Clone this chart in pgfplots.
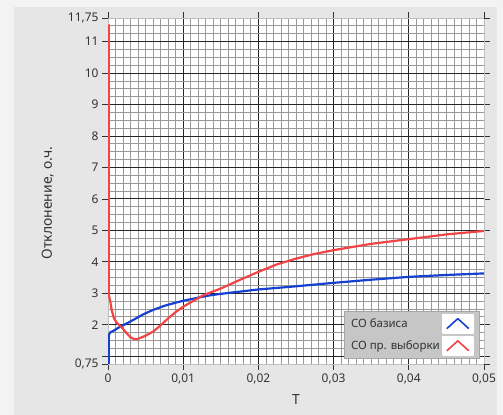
\documentclass[border=0pt]{standalone}
\usepackage{fontspec}
\setmainfont{Noto Sans}
\usepackage{pgfplots}
\pgfplotsset{compat=1.18}
\definecolor{bg}{HTML}{E6E6E6}
\definecolor{bglight}{HTML}{F3F3F3}
\definecolor{lgd}{HTML}{C6C6C6}
\definecolor{cblue}{HTML}{1540D0}
\definecolor{cred}{HTML}{F24444}
\definecolor{txt}{HTML}{333333}
\begin{document}
\begin{tikzpicture}
\fill[bg] (0,0) rectangle (503bp,415bp);
\fill[bglight] (0,0) rectangle (14bp,415bp);
\fill[bglight] (0,408bp) rectangle (503bp,415bp);
\fill[bglight] (497bp,0) rectangle (503bp,415bp);
\begin{axis}[
  scale only axis, width=376bp, height=346bp,
  at={(108bp,51bp)}, anchor=south west,
  xmin=0, xmax=0.05, ymin=0.75, ymax=11.75,
  axis background/.style={fill=white},
  scaled x ticks=false,
  xtick={0,0.01,0.02,0.03,0.04,0.05},
  xticklabels={0,{0,01},{0,02},{0,03},{0,04},{0,05}},
  ytick={1,2,3,4,5,6,7,8,9,10,11},
  yticklabels={{},2,3,4,5,6,7,8,9,10,11},
  extra y ticks={0.75,11.75},
  extra y tick labels={{0,75},{11,75}},
  extra y tick style={grid=none},
  minor xtick={0,0.001,...,0.05},
  minor ytick={0.75,1.0,...,11.75},
  grid=both,
  major grid style={black!85, line width=0.9pt},
  minor grid style={black!40, line width=0.8pt},
  tick align=outside, major tick length=6bp, minor tick length=0pt,
  tick style={black!80, line width=0.7pt},
  axis line style={draw=gray!50},
  tick label style={font=\fontsize{12}{13}\selectfont, text=txt},
  xlabel={T}, ylabel={Отклонение, о.ч.},
  label style={font=\fontsize{14}{15}\selectfont, text=txt},
  xlabel style={at={(axis description cs:0.5,-0.104)}, anchor=center},
  ylabel style={at={(axis description cs:-0.16,0.465)}, anchor=center},
  legend style={at={(axis description cs:0.987,0.017)}, anchor=south east,
    fill=lgd, draw=gray!70, font=\fontsize{11.5}{12}\selectfont, text=txt,
    inner xsep=5bp, inner ysep=2bp, row sep=2bp},
  legend plot pos=right,
  legend cell align=left,
  legend image code/.code={
    \fill[white] (0bp,-9bp) rectangle (30bp,9bp);
    \draw[#1, line width=1.6pt] (4bp,-5bp) -- (15bp,5bp) -- (26bp,-5bp);
  },
]
\addplot[cblue, line width=2.2pt, line join=round] coordinates {
(0.0001,0.75) (0.0001,1.67) (0.0003,1.76) (0.0007,1.80) (0.0015,1.92) (0.0025,2.04)
(0.0035,2.17) (0.0047,2.33) (0.006,2.47) (0.0075,2.60) (0.009,2.70)
(0.01,2.76) (0.012,2.86) (0.0135,2.93) (0.015,2.98) (0.0175,3.05)
(0.02,3.12) (0.025,3.22) (0.03,3.33) (0.035,3.43) (0.04,3.52)
(0.045,3.58) (0.05,3.63)};
\addlegendentry{СО базиса}
\addplot[cred, line width=2.2pt, line join=round] coordinates {
(0.0001,11.55) (0.0001,2.95) (0.0003,2.75) (0.0005,2.45) (0.0008,2.2) (0.0012,2.05)
(0.0018,1.92) (0.0025,1.72) (0.003,1.6) (0.0035,1.54) (0.004,1.55)
(0.005,1.65) (0.006,1.78) (0.007,1.98) (0.008,2.2) (0.009,2.4)
(0.01,2.57) (0.0115,2.78) (0.0127,2.94) (0.015,3.15) (0.0175,3.42)
(0.02,3.68) (0.0225,3.92) (0.025,4.1) (0.0275,4.25) (0.03,4.37)
(0.035,4.57) (0.04,4.72) (0.045,4.87) (0.05,4.98)};
\addlegendentry{СО пр. выборки}
\end{axis}
\end{tikzpicture}
\end{document}
